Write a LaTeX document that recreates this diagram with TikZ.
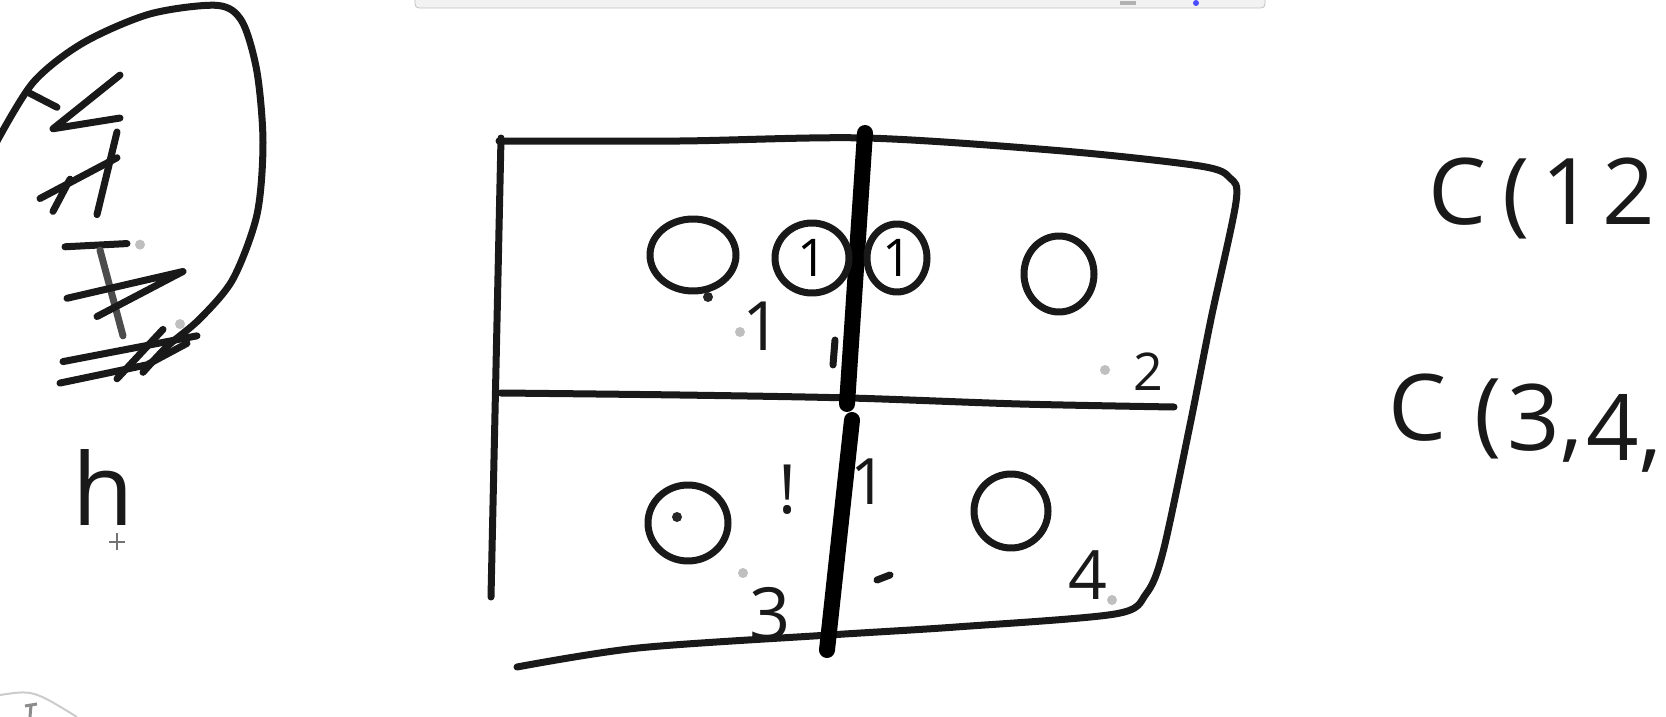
\documentclass[tikz,border=0pt]{standalone}
\usepackage{fontspec}
\setmainfont{Open Sans}
\usepackage{tikz}
\usetikzlibrary{positioning,shapes.geometric}
\tikzset{
    tinta/.style={draw=black!90, line width=3.5pt, line cap=round, line join=round},
    tintaGrossa/.style={draw=black, line width=8pt, line cap=round},
    bola/.style={ellipse, tinta, inner sep=0pt},
    rotulo/.style={inner sep=0pt, text=black!90},
    marca/.style={circle, fill=black!25, inner sep=0pt, minimum size=5pt},
    pingo/.style={circle, fill=black!85, inner sep=0pt, minimum size=5pt},
    cursor/.style={draw=black!55, line width=0.8pt}
}
\newcommand{\tam}[1]{\fontsize{#1}{#1}\selectfont}

\begin{document}
\begin{tikzpicture}[x=0.5pt, y=-0.5pt]
    \useasboundingbox (0,0) rectangle (1666,717);
    \fill[white] (0,0) rectangle (1666,717);

    % barra de ferramentas no topo
    \draw[draw=black!25, fill=black!5, rounded corners=2pt] (415,-4) rectangle (1265,8);
    \fill[black!30] (1120,1) rectangle (1136,5);
    \fill[blue!70] (1196,3) circle (3);

    % laco com rabiscos
    \begin{scope}[yscale=1.073]
        \draw[tinta] plot[smooth] coordinates {(-5,135) (33,77) (83,40) (150,13) (217,5) (242,20) (257,67) (263,133) (257,200) (233,260) (200,297) (167,323) (143,347)};
        \draw[tinta] (30,87) -- (57,100);
        \draw[tinta] (120,70) -- (53,120) -- (120,110);
        \draw[tinta] (117,123) -- (97,200);
        \draw[tinta] (117,147) -- (40,185);
        \draw[tinta] (70,167) -- (53,197);
        \draw[tinta] (65,230) -- (127,227);
        \draw[tinta, draw=black!70] (100,233) -- (123,313);
        \draw[tinta] (67,278) -- (183,253) -- (97,295);
        \draw[tinta] (63,337) -- (197,313);
        \draw[tinta] (60,357) -- (147,340) -- (187,320);
        \draw[tinta] (117,353) -- (163,307);
        \node[marca] (m1) at (140,228) {};
        \node[marca] (m2) at (180,302) {};

        \node[rotulo, anchor=base] (h) at (103,490) {\tam{50}h};
        \draw[cursor] (109,505) -- (125,505) (117,497) -- (117,513);
    \end{scope}

    % grade 2x2
    \draw[tinta] (501,138) -- (491,597);
    \draw[tinta] plot[smooth] coordinates {(499,141) (680,141) (866,138) (1063,151) (1200,166) (1230,178) (1236,202) (1211,319) (1190,425) (1163,552) (1146,594) (1115,614) (956,627) (829,635) (638,648) (517,667)};
    \draw[tinta] plot[smooth] coordinates {(501,393) (680,395) (850,398) (1020,404) (1174,407)};
    \draw[tintaGrossa] (865,133) -- (847,404);
    \draw[tintaGrossa] (852,420) -- (827,650);
    \draw[tinta] (835,340) -- (833,365);

    % bolas
    \node[bola, minimum width=43pt, minimum height=36pt] (bolaA) at (693,255) {};
    \node[bola, minimum width=37pt, minimum height=35pt] (bolaB) at (812,258) {\tam{26}1};
    \node[bola, minimum width=30pt, minimum height=34pt] (bolaC) at (897,258) {\tam{26}1};
    \node[bola, minimum width=35pt, minimum height=38pt] (bolaD) at (1059,274) {};
    \node[bola, minimum width=40pt, minimum height=38pt] (bolaE) at (688,523) {};
    \node[bola, minimum width=37pt, minimum height=37pt] (bolaF) at (1011,511) {};

    % numeros e marcas
    \node[pingo] (p1) at (708,297) {};
    \node[marca] (m3) at (740,332) {};
    \node[rotulo] (um) at (762,326) {\tam{34}1};
    \node[marca] (m4) at (1105,370) {};
    \node[rotulo] (dois) at (1148,372) {\tam{26}2};
    \node[pingo] (p2) at (677,517) {};
    \node[rotulo] (excl) at (788,490) {\tam{34}!};
    \node[rotulo] (umB) at (869,482) {\tam{32}1};
    \draw[tinta] (877,580) -- (890,575);
    \node[marca] (m5) at (743,573) {};
    \node[rotulo] (tres) at (770,614) {\tam{36}3};
    \node[rotulo] (quatro) at (1088,575) {\tam{34}4};
    \node[marca] (m6) at (1112,600) {};

    % texto a direita
    \node[rotulo, anchor=base west] (c12) at (1428,224) {\tam{46}C\hspace{8pt}(\hspace{6pt}1\hspace{4pt}2};
    \node[rotulo, anchor=base west] (c34) at (1388,440) {\tam{46}C\hspace{14pt}\raisebox{-2pt}{(}\hspace{3pt}\raisebox{-5pt}{3,}\hspace{2pt}\raisebox{-10pt}{4,}};

    % canto inferior esquerdo
    \draw[draw=black!20, line width=1pt] (0,695) .. controls (33,690) .. (77,717);
    \draw[draw=black!45, line width=1.5pt] (25,706) -- (37,704) (31,705) -- (30,717);
\end{tikzpicture}
\end{document}
